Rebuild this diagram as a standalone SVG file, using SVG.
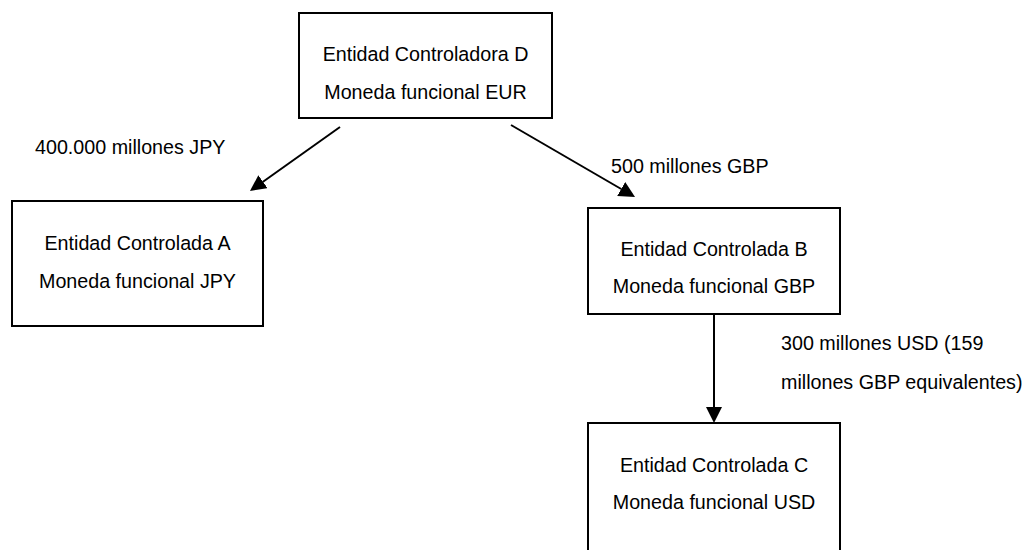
<svg xmlns="http://www.w3.org/2000/svg" width="1027" height="550" viewBox="0 0 1027 550">
  <defs>
    <style>
      .box { fill: #ffffff; stroke: #000000; stroke-width: 2; }
      .txt { font-family: "Liberation Sans", Arial, sans-serif; font-size: 19.7px; fill: #000000; }
      .mid { text-anchor: middle; }
      .link { stroke: #000000; stroke-width: 2; fill: none; marker-end: url(#head); }
    </style>
    <marker id="head" markerUnits="userSpaceOnUse" markerWidth="17" markerHeight="17" refX="0" refY="8" orient="auto">
      <path d="M0,0 L16,8 L0,16 z" fill="#000000"/>
    </marker>
  </defs>
  <rect width="1027" height="550" fill="#ffffff"/>

  <!-- parent entity -->
  <g id="node-d">
    <rect class="box" x="299" y="13" width="253" height="105"/>
    <text class="txt mid" x="425.5" y="61">Entidad Controladora D</text>
    <text class="txt mid" x="425.5" y="99">Moneda funcional EUR</text>
  </g>

  <!-- subsidiary A -->
  <g id="node-a">
    <rect class="box" x="12" y="201" width="251" height="125"/>
    <text class="txt mid" x="137.5" y="250">Entidad Controlada A</text>
    <text class="txt mid" x="137.5" y="288">Moneda funcional JPY</text>
  </g>

  <!-- subsidiary B -->
  <g id="node-b">
    <rect class="box" x="588" y="208" width="252" height="106"/>
    <text class="txt mid" x="714" y="256">Entidad Controlada B</text>
    <text class="txt mid" x="714" y="293">Moneda funcional GBP</text>
  </g>

  <!-- subsidiary C -->
  <g id="node-c">
    <rect class="box" x="588" y="423" width="252" height="140"/>
    <text class="txt mid" x="714" y="472">Entidad Controlada C</text>
    <text class="txt mid" x="714" y="509">Moneda funcional USD</text>
  </g>

  <!-- investment links -->
  <g id="connectors">
    <line class="link" x1="340" y1="127" x2="263" y2="181.7"/>
    <line class="link" x1="511" y1="125" x2="621.2" y2="189"/>
    <line class="link" x1="714" y1="314" x2="714" y2="407"/>
    <text class="txt" x="35" y="154">400.000 millones JPY</text>
    <text class="txt" x="611" y="173">500 millones GBP</text>
    <text class="txt" x="781" y="350">300 millones USD (159</text>
    <text class="txt" x="781" y="389">millones GBP equivalentes)</text>
  </g>
</svg>
